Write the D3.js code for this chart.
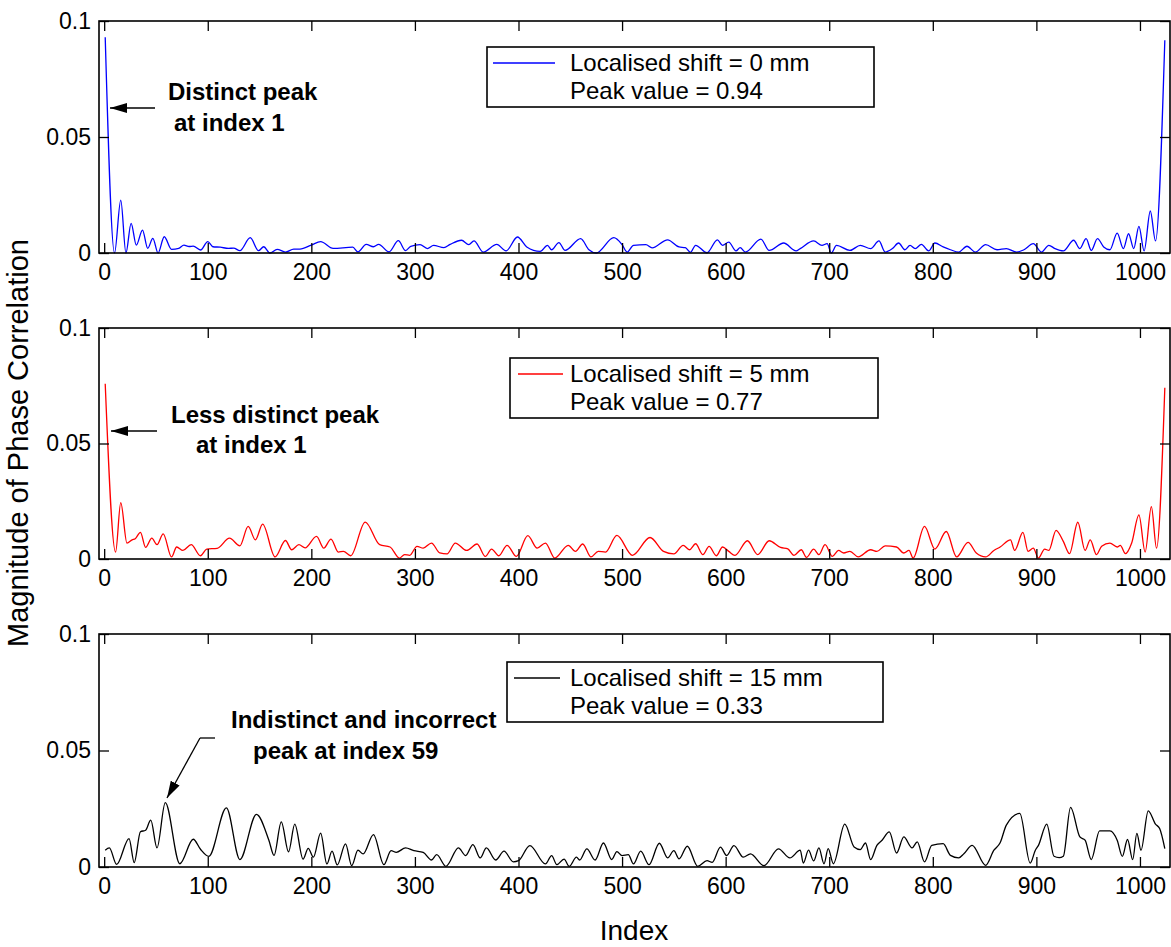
<!DOCTYPE html>
<html>
<head>
<meta charset="utf-8">
<script src="https://cdn.jsdelivr.net/npm/d3@7"></script>
<style>
  body { margin: 0; background: #fff; }
  svg text { font-family: "Liberation Sans", Arial, sans-serif; }
</style>
</head>
<body>
<svg id="chart" width="1171" height="947"></svg>
<script>
// tick labels
const xTicks = [0, 100, 200, 300, 400, 500, 600, 700, 800, 900, 1000];
const yTicks = [0, 0.05, 0.1];

// shift = 0 mm (blue)
const blueIdx = [1,10,16,21,26,31,37,42,47,52,58,65,72,77,82,86,93,100,105,112,120,125,131,141,149,154,160,167,175,183,189,200,209,221,240,245,253,260,265,275,284,291,296,305,312,318,328,334,345,352,357,366,379,388,399,408,421,428,432,439,445,460,468,475,492,500,505,511,523,529,544,555,561,566,571,582,592,597,603,610,614,619,634,642,656,668,672,685,693,698,702,707,720,730,740,748,754,761,767,773,778,783,789,796,802,810,817,825,833,841,851,862,871,881,888,897,905,912,918,926,936,942,948,953,959,965,971,978,984,989,994,999,1004,1010,1015,1024];
const blueVal = [0.093,0,0.0228,0,0.0128,0.0034,0.0099,0.002,0.0063,0,0.007,0.0016,0.002,0.0034,0.0028,0.003,0.0013,0.0049,0.0027,0.0025,0.002,0.0021,0.001,0.0066,0.001,0.0027,0,0.0016,0.0004,0.0017,0.0017,0.0034,0.0049,0.002,0.0025,0.0005,0.0037,0.0027,0.0037,0.0005,0.0053,0.001,0.0029,0.0036,0.0019,0.0033,0.0023,0.0037,0.0055,0.0036,0.0052,0.0004,0.0037,0.0009,0.0069,0.0026,0.0007,0.0033,0.0014,0.0045,0.0011,0.0062,0.0014,0,0.0066,0.0036,0.0004,0.0033,0.0036,0.0022,0.0057,0.0026,0.0023,0.0003,0.0033,0.0001,0.0057,0.0033,0.0047,0.0009,0.0023,0.0004,0.006,0.0011,0.0043,0.0009,0.0019,0.0052,0.0033,0.004,0,0.0033,0.0011,0.0033,0.0019,0.0052,0.0004,0.0019,0.0043,0.0014,0.0033,0.0019,0.0037,0.0009,0.0043,0.0026,0.0014,0.0004,0.0029,0.0004,0.0036,0.0014,0.0019,0.0004,0.0014,0.004,0.0004,0.0033,0.0019,0.0009,0.0055,0.0019,0.0062,0.0011,0.0062,0.0026,0.0014,0.0086,0.0019,0.0083,0.0019,0.0115,0.0009,0.0181,0.0052,0.0917];

// shift = 5 mm (red)
const redIdx = [1,11,16,22,27,30,35,40,46,51,57,65,70,76,84,93,99,109,121,131,139,146,153,165,175,181,188,194,205,212,219,226,231,238,252,266,276,285,290,295,302,308,316,324,331,339,350,360,368,374,381,389,398,409,418,426,435,448,455,462,470,477,484,495,510,527,540,550,559,565,571,578,584,591,597,603,609,621,631,642,653,660,666,673,678,685,690,696,703,709,714,720,728,740,746,754,765,772,777,781,792,802,813,823,834,842,851,859,865,875,879,887,892,897,902,908,912,919,926,932,940,947,952,958,963,971,978,981,986,992,999,1005,1011,1016,1024];
const redVal = [0.0759,0.003,0.0244,0.0069,0.0083,0.0088,0.0115,0.005,0.009,0.0062,0.0109,0.0009,0.0052,0.0037,0.0062,0.0014,0.0043,0.0046,0.009,0.0057,0.0141,0.0083,0.0151,0.0009,0.008,0.004,0.0062,0.0048,0.0098,0.0047,0.0086,0.003,0.0033,0.0014,0.016,0.0062,0.0052,0.0004,0.0019,0.0016,0.0055,0.0047,0.0069,0.0026,0.0022,0.0069,0.0037,0.0065,0.0011,0.0043,0.0014,0.0059,0.0011,0.0101,0.0047,0.0069,0.0004,0.0059,0.0033,0.0065,0.0009,0.0033,0.003,0.0102,0.0016,0.0093,0.0033,0.0022,0.0059,0.004,0.0066,0.0019,0.0055,0.0014,0.0052,0.0033,0.0016,0.0079,0.0019,0.0079,0.005,0.0044,0.0016,0.004,0.0007,0.0043,0.0019,0.0062,0.0011,0.0037,0.0026,0.0033,0.0009,0.004,0.0033,0.0057,0.0052,0.0026,0.0037,0.0004,0.0141,0.0043,0.0119,0.0009,0.0072,0.0026,0.0009,0.0037,0.0052,0.0083,0.0037,0.0115,0.0033,0.0047,0.0004,0.0043,0.0037,0.0124,0.0076,0.0023,0.0159,0.0037,0.0083,0.0019,0.0055,0.0069,0.0052,0.0059,0.0023,0.0069,0.0191,0.003,0.0227,0.0047,0.0741];

// shift = 15 mm (black)
const blackIdx = [1,5,12,24,29,35,40,45,51,59,73,86,93,101,118,131,147,159,164,171,178,184,192,197,202,209,215,220,225,233,239,245,250,260,270,277,282,291,299,308,316,321,330,342,349,356,363,369,378,386,395,400,411,426,432,437,444,449,456,459,466,474,482,490,495,500,506,511,518,526,536,544,550,555,563,573,582,587,595,601,608,617,624,637,651,662,672,675,680,685,690,695,699,704,715,724,730,735,740,746,751,758,765,772,780,785,792,799,810,817,825,830,838,851,859,865,871,884,894,899,902,910,917,922,926,933,942,947,953,961,971,978,983,988,993,997,1001,1008,1015,1019,1024];
const blackVal = [0.0072,0.0082,0.0011,0.0122,0.0019,0.0151,0.0158,0.0201,0.0082,0.0276,0.0014,0.0119,0.0076,0.0046,0.0254,0.0032,0.0226,0.0115,0.005,0.0194,0.0065,0.0184,0.0034,0.008,0.0042,0.0145,0.0013,0.0068,0.0009,0.0099,0.0006,0.0072,0.0056,0.0139,0.001,0.007,0.0063,0.0082,0.007,0.0063,0.003,0.0053,0.0003,0.0082,0.0049,0.0096,0.0039,0.0082,0.003,0.0068,0.0022,0.0027,0.0092,0.0013,0.0049,0.001,0.0034,0.0003,0.0042,0.003,0.0078,0.003,0.0103,0.0032,0.0066,0.0049,0.0053,0.0013,0.0068,0.001,0.0102,0.0039,0.007,0.0035,0.0089,0.0003,0.0027,0.002,0.0085,0.0049,0.0092,0.0042,0.0056,0.0006,0.0078,0.0039,0.0072,0.0017,0.0072,0.0026,0.0082,0.0014,0.0079,0.0014,0.0184,0.0086,0.0075,0.0103,0.0032,0.0093,0.0115,0.0151,0.006,0.0129,0.0082,0.0108,0.0022,0.0093,0.01,0.005,0.0039,0.0057,0.0093,0.0007,0.0072,0.0104,0.018,0.023,0.0017,0.0072,0.0093,0.0184,0.0046,0.004,0.0046,0.0256,0.0129,0.0115,0.0032,0.0155,0.0155,0.0115,0.0046,0.0118,0.0032,0.0144,0.0072,0.0241,0.0184,0.0165,0.0079];

const legendShift = ["Localised shift = 0 mm", "Localised shift = 5 mm", "Localised shift = 15 mm"];
const legendPeak = ["Peak value = 0.94", "Peak value = 0.77", "Peak value = 0.33"];
const noteLines = [["Distinct peak", "at index 1"], ["Less distinct peak", "at index 1"], ["Indistinct and incorrect", "peak at index 59"]];

const svg = d3.select("#chart");
const left = 99, right = 1170;

const panels = [
  { idx: blueIdx, val: blueVal, color: "#0000ff", top: 21, bottom: 253,
    box: [487, 47, 874, 107], sample: [493, 555], noteX: [168, 174] },
  { idx: redIdx, val: redVal, color: "#ff0000", top: 328, bottom: 559,
    box: [510, 358, 878, 418], sample: [518, 563], noteX: [171, 196] },
  { idx: blackIdx, val: blackVal, color: "#000000", top: 634, bottom: 867,
    box: [507, 662, 883, 722], sample: [514, 560], noteX: [231, 253] }
];

svg.append("defs").append("marker")
  .attr("id", "head")
  .attr("viewBox", "0 0 17 10")
  .attr("refX", 17).attr("refY", 5)
  .attr("markerWidth", 17).attr("markerHeight", 10)
  .attr("markerUnits", "userSpaceOnUse")
  .attr("orient", "auto")
  .append("path").attr("d", "M0,0L17,5L0,10Z").attr("fill", "#000");

const x = d3.scaleLinear().domain([-5, 1029]).range([left, right]);

panels.forEach((p, i) => {
  const y = d3.scaleLinear().domain([0, 0.1]).range([p.bottom, p.top]);
  const g = svg.append("g");

  const line = d3.line()
    .x((d) => x(d[0]))
    .y((d) => y(d[1]))
    .curve(d3.curveMonotoneX);
  const pts = p.idx.map((v, k) => [v, p.val[k]]);
  g.append("path").datum(pts)
    .attr("d", line)
    .attr("fill", "none")
    .attr("stroke", p.color)
    .attr("stroke-width", 1.3);

  // axes, ticks pointing inward
  const fmt = (d) => d === 0 ? "0" : d3.format("~g")(d);
  const ax = [
    g.append("g").attr("transform", `translate(0,${p.bottom})`)
      .call(d3.axisBottom(x).tickValues(xTicks).tickSize(-10).tickPadding(11).tickFormat(d3.format("d"))),
    g.append("g").attr("transform", `translate(0,${p.top})`)
      .call(d3.axisTop(x).tickValues(xTicks).tickSize(-10).tickFormat("")),
    g.append("g").attr("transform", `translate(${left},0)`)
      .call(d3.axisLeft(y).tickValues(yTicks).tickSize(-10).tickPadding(8).tickFormat(fmt)),
    g.append("g").attr("transform", `translate(${right},0)`)
      .call(d3.axisRight(y).tickValues(yTicks).tickSize(-10).tickFormat(""))
  ];
  ax.forEach((a) => {
    a.select(".domain").remove();
    a.selectAll("line").attr("stroke", "#000").attr("stroke-width", 1.3);
    a.selectAll("text").attr("font-size", 23).attr("fill", "#000")
      .style("font-family", "'Liberation Sans', Arial, sans-serif");
  });

  g.append("rect")
    .attr("x", left).attr("y", p.top)
    .attr("width", right - left).attr("height", p.bottom - p.top)
    .attr("fill", "none").attr("stroke", "#000").attr("stroke-width", 1.6);

  // legend
  const b = p.box;
  g.append("rect")
    .attr("x", b[0]).attr("y", b[1]).attr("width", b[2] - b[0]).attr("height", b[3] - b[1])
    .attr("fill", "#fff").attr("stroke", "#000").attr("stroke-width", 1.6);
  g.append("line")
    .attr("x1", p.sample[0]).attr("x2", p.sample[1])
    .attr("y1", b[1] + 16).attr("y2", b[1] + 16)
    .attr("stroke", p.color).attr("stroke-width", 1.3);
  g.append("text").attr("x", 570).attr("y", b[1] + 24)
    .attr("font-size", 24).text(legendShift[i]);
  g.append("text").attr("x", 570).attr("y", b[1] + 52)
    .attr("font-size", 24).text(legendPeak[i]);
});

// annotations
const ny = [[100, 131], [423, 453], [728, 759]];
panels.forEach((p, i) => {
  noteLines[i].forEach((t, k) => {
    svg.append("text").attr("x", p.noteX[k]).attr("y", ny[i][k])
      .attr("font-size", 24).attr("font-weight", "bold").text(t);
  });
});

const arrow = (pts) => svg.append("path")
  .attr("d", d3.line()(pts))
  .attr("fill", "none").attr("stroke", "#000").attr("stroke-width", 1.3)
  .attr("marker-end", "url(#head)");
arrow([[155, 108], [110, 108]]);
arrow([[157, 431], [111, 431]]);
svg.append("line").attr("x1", 200).attr("x2", 215).attr("y1", 738).attr("y2", 738)
  .attr("stroke", "#000").attr("stroke-width", 1.3);
arrow([[200, 738], [167, 798]]);

// axis titles
svg.append("text")
  .attr("transform", "translate(28,443) rotate(-90)")
  .attr("text-anchor", "middle")
  .attr("font-size", 29)
  .text("Magnitude of Phase Correlation");
svg.append("text")
  .attr("x", 634).attr("y", 940)
  .attr("text-anchor", "middle")
  .attr("font-size", 28)
  .text("Index");
</script>
</body>
</html>
